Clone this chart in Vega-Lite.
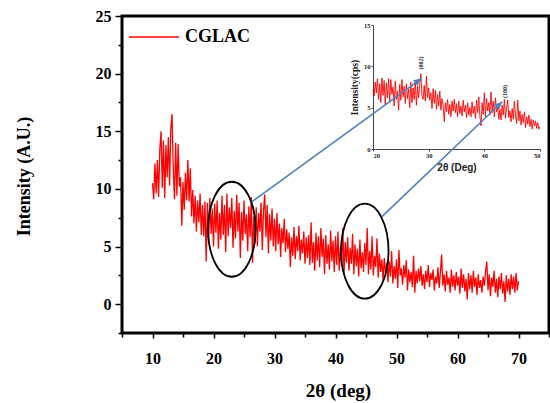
{
"$schema":"https://vega.github.io/schema/vega-lite/v6.json",
"width":427,"height":317,
"autosize":{"type":"none"},
"padding":{"left":122,"top":16,"right":1,"bottom":70},
"background":"white",
"config":{"view":{"stroke":"black","strokeWidth":3},"axis":{"grid":false},"font":"Liberation Serif"},
"datasets":{
"main":[{"t":10.0,"i":10.5},{"t":10.2,"i":9.1},{"t":10.4,"i":12.2},{"t":10.6,"i":9.6},{"t":10.8,"i":12.5},{"t":11.0,"i":9.3},{"t":11.2,"i":13.4},{"t":11.4,"i":15.0},{"t":11.6,"i":10.1},{"t":11.8,"i":14.2},{"t":12.0,"i":9.2},{"t":12.2,"i":13.8},{"t":12.4,"i":11.0},{"t":12.6,"i":14.5},{"t":12.8,"i":10.3},{"t":13.0,"i":15.2},{"t":13.2,"i":16.5},{"t":13.4,"i":11.8},{"t":13.6,"i":9.1},{"t":13.8,"i":14.0},{"t":14.0,"i":9.4},{"t":14.2,"i":13.9},{"t":14.4,"i":10.2},{"t":14.6,"i":11.0},{"t":14.8,"i":6.8},{"t":15.0,"i":10.6},{"t":15.2,"i":8.2},{"t":15.4,"i":11.4},{"t":15.6,"i":9.0},{"t":15.8,"i":12.5},{"t":16.0,"i":8.9},{"t":16.2,"i":11.8},{"t":16.4,"i":7.6},{"t":16.6,"i":9.9},{"t":16.8,"i":7.0},{"t":17.0,"i":9.4},{"t":17.2,"i":6.3},{"t":17.4,"i":9.0},{"t":17.6,"i":7.1},{"t":17.8,"i":9.6},{"t":18.0,"i":6.0},{"t":18.2,"i":8.6},{"t":18.4,"i":5.9},{"t":18.6,"i":8.9},{"t":18.8,"i":3.7},{"t":19.0,"i":8.8},{"t":19.2,"i":5.4},{"t":19.4,"i":9.2},{"t":19.6,"i":6.1},{"t":19.8,"i":8.3},{"t":20.0,"i":5.0},{"t":20.2,"i":8.7},{"t":20.4,"i":6.2},{"t":20.6,"i":9.0},{"t":20.8,"i":4.8},{"t":21.0,"i":7.9},{"t":21.2,"i":5.6},{"t":21.4,"i":9.4},{"t":21.6,"i":6.0},{"t":21.8,"i":8.6},{"t":22.0,"i":4.5},{"t":22.2,"i":9.6},{"t":22.4,"i":5.9},{"t":22.6,"i":8.4},{"t":22.8,"i":6.6},{"t":23.0,"i":9.2},{"t":23.2,"i":4.9},{"t":23.4,"i":8.1},{"t":23.6,"i":5.7},{"t":23.8,"i":9.5},{"t":24.0,"i":6.3},{"t":24.2,"i":8.8},{"t":24.4,"i":4.0},{"t":24.6,"i":8.0},{"t":24.8,"i":5.5},{"t":25.0,"i":9.0},{"t":25.2,"i":6.1},{"t":25.4,"i":7.8},{"t":25.6,"i":4.6},{"t":25.8,"i":8.5},{"t":26.0,"i":5.8},{"t":26.2,"i":9.3},{"t":26.4,"i":3.6},{"t":26.6,"i":7.6},{"t":26.8,"i":5.2},{"t":27.0,"i":8.4},{"t":27.2,"i":5.0},{"t":27.4,"i":7.9},{"t":27.6,"i":6.3},{"t":27.8,"i":8.8},{"t":28.0,"i":4.7},{"t":28.2,"i":8.1},{"t":28.4,"i":9.5},{"t":28.6,"i":5.8},{"t":28.8,"i":8.6},{"t":29.0,"i":4.4},{"t":29.2,"i":7.8},{"t":29.4,"i":5.5},{"t":29.6,"i":8.3},{"t":29.8,"i":5.0},{"t":30.0,"i":7.4},{"t":30.2,"i":4.6},{"t":30.4,"i":7.9},{"t":30.6,"i":5.2},{"t":30.8,"i":7.0},{"t":31.0,"i":4.1},{"t":31.2,"i":6.6},{"t":31.4,"i":5.3},{"t":31.6,"i":7.4},{"t":31.8,"i":4.5},{"t":32.0,"i":6.5},{"t":32.2,"i":4.8},{"t":32.4,"i":6.2},{"t":32.6,"i":3.2},{"t":32.8,"i":5.8},{"t":33.0,"i":4.2},{"t":33.2,"i":6.7},{"t":33.4,"i":3.9},{"t":33.6,"i":5.9},{"t":33.8,"i":4.6},{"t":34.0,"i":6.8},{"t":34.2,"i":3.8},{"t":34.4,"i":5.6},{"t":34.6,"i":4.4},{"t":34.8,"i":6.3},{"t":35.0,"i":3.5},{"t":35.2,"i":5.8},{"t":35.4,"i":4.0},{"t":35.6,"i":6.0},{"t":35.8,"i":3.4},{"t":36.0,"i":7.1},{"t":36.2,"i":3.6},{"t":36.4,"i":5.4},{"t":36.6,"i":2.9},{"t":36.8,"i":6.2},{"t":37.0,"i":3.8},{"t":37.2,"i":5.9},{"t":37.4,"i":3.2},{"t":37.6,"i":6.6},{"t":37.8,"i":4.1},{"t":38.0,"i":5.7},{"t":38.2,"i":2.6},{"t":38.4,"i":6.0},{"t":38.6,"i":3.5},{"t":38.8,"i":5.2},{"t":39.0,"i":3.0},{"t":39.2,"i":6.4},{"t":39.4,"i":3.7},{"t":39.6,"i":5.5},{"t":39.8,"i":2.8},{"t":40.0,"i":5.9},{"t":40.2,"i":3.4},{"t":40.4,"i":6.3},{"t":40.6,"i":2.9},{"t":40.8,"i":5.0},{"t":41.0,"i":3.3},{"t":41.2,"i":6.6},{"t":41.4,"i":2.7},{"t":41.6,"i":5.4},{"t":41.8,"i":3.6},{"t":42.0,"i":5.8},{"t":42.2,"i":2.9},{"t":42.4,"i":4.9},{"t":42.6,"i":3.5},{"t":42.8,"i":6.1},{"t":43.0,"i":2.6},{"t":43.2,"i":5.2},{"t":43.4,"i":3.3},{"t":43.6,"i":4.8},{"t":43.8,"i":2.4},{"t":44.0,"i":5.6},{"t":44.2,"i":3.1},{"t":44.4,"i":4.5},{"t":44.6,"i":2.8},{"t":44.8,"i":5.3},{"t":45.0,"i":3.4},{"t":45.2,"i":6.6},{"t":45.4,"i":2.6},{"t":45.6,"i":4.6},{"t":45.8,"i":3.0},{"t":46.0,"i":5.9},{"t":46.2,"i":2.5},{"t":46.4,"i":4.2},{"t":46.6,"i":3.2},{"t":46.8,"i":5.7},{"t":47.0,"i":2.3},{"t":47.2,"i":4.4},{"t":47.4,"i":2.8},{"t":47.6,"i":3.9},{"t":47.8,"i":2.1},{"t":48.0,"i":4.0},{"t":48.2,"i":2.6},{"t":48.4,"i":3.6},{"t":48.6,"i":1.9},{"t":48.8,"i":3.7},{"t":49.0,"i":2.4},{"t":49.2,"i":4.6},{"t":49.4,"i":1.8},{"t":49.6,"i":3.3},{"t":49.8,"i":2.2},{"t":50.0,"i":3.9},{"t":50.2,"i":1.4},{"t":50.4,"i":4.7},{"t":50.6,"i":2.5},{"t":50.8,"i":3.1},{"t":51.0,"i":1.7},{"t":51.2,"i":3.4},{"t":51.4,"i":2.3},{"t":51.6,"i":3.8},{"t":51.8,"i":1.2},{"t":52.0,"i":3.0},{"t":52.2,"i":1.9},{"t":52.4,"i":2.8},{"t":52.6,"i":1.5},{"t":52.8,"i":4.2},{"t":53.0,"i":1.0},{"t":53.2,"i":2.9},{"t":53.4,"i":1.8},{"t":53.6,"i":3.1},{"t":53.8,"i":2.0},{"t":54.0,"i":3.3},{"t":54.2,"i":1.6},{"t":54.4,"i":2.6},{"t":54.6,"i":1.3},{"t":54.8,"i":2.9},{"t":55.0,"i":1.9},{"t":55.2,"i":3.4},{"t":55.4,"i":1.5},{"t":55.6,"i":2.7},{"t":55.8,"i":2.1},{"t":56.0,"i":3.0},{"t":56.2,"i":1.2},{"t":56.4,"i":2.4},{"t":56.6,"i":1.8},{"t":56.8,"i":3.2},{"t":57.0,"i":1.4},{"t":57.2,"i":2.8},{"t":57.4,"i":4.3},{"t":57.6,"i":1.6},{"t":57.8,"i":2.6},{"t":58.0,"i":1.1},{"t":58.2,"i":2.9},{"t":58.4,"i":1.7},{"t":58.6,"i":2.3},{"t":58.8,"i":1.0},{"t":59.0,"i":3.0},{"t":59.2,"i":1.5},{"t":59.4,"i":2.5},{"t":59.6,"i":1.2},{"t":59.8,"i":2.8},{"t":60.0,"i":1.6},{"t":60.2,"i":2.4},{"t":60.4,"i":0.9},{"t":60.6,"i":3.1},{"t":60.8,"i":1.4},{"t":61.0,"i":2.6},{"t":61.2,"i":1.1},{"t":61.4,"i":2.2},{"t":61.6,"i":0.4},{"t":61.8,"i":2.7},{"t":62.0,"i":1.3},{"t":62.2,"i":2.5},{"t":62.4,"i":1.0},{"t":62.6,"i":2.9},{"t":62.8,"i":1.5},{"t":63.0,"i":2.3},{"t":63.2,"i":0.8},{"t":63.4,"i":2.6},{"t":63.6,"i":1.4},{"t":63.8,"i":2.1},{"t":64.0,"i":1.0},{"t":64.2,"i":2.4},{"t":64.4,"i":1.6},{"t":64.6,"i":2.8},{"t":64.8,"i":3.7},{"t":65.0,"i":1.2},{"t":65.2,"i":2.6},{"t":65.4,"i":0.7},{"t":65.6,"i":2.3},{"t":65.8,"i":1.5},{"t":66.0,"i":2.9},{"t":66.2,"i":1.0},{"t":66.4,"i":2.2},{"t":66.6,"i":0.6},{"t":66.8,"i":2.4},{"t":67.0,"i":1.3},{"t":67.2,"i":2.7},{"t":67.4,"i":0.9},{"t":67.6,"i":2.0},{"t":67.8,"i":0.2},{"t":68.0,"i":2.5},{"t":68.2,"i":1.1},{"t":68.4,"i":2.2},{"t":68.6,"i":0.8},{"t":68.8,"i":2.6},{"t":69.0,"i":1.3},{"t":69.2,"i":2.4},{"t":69.4,"i":1.0},{"t":69.6,"i":2.7},{"t":69.8,"i":1.2},{"t":70.0,"i":2.0}],
"inset":[{"t":20.0,"i":7.2},{"t":20.2,"i":6.4},{"t":20.4,"i":8.1},{"t":20.6,"i":6.8},{"t":20.8,"i":8.5},{"t":21.0,"i":6.0},{"t":21.2,"i":7.9},{"t":21.4,"i":5.6},{"t":21.6,"i":8.6},{"t":21.8,"i":6.5},{"t":22.0,"i":8.3},{"t":22.2,"i":5.4},{"t":22.4,"i":8.0},{"t":22.6,"i":6.2},{"t":22.8,"i":8.5},{"t":23.0,"i":5.8},{"t":23.2,"i":8.4},{"t":23.4,"i":6.6},{"t":23.6,"i":7.5},{"t":23.8,"i":5.2},{"t":24.0,"i":8.2},{"t":24.2,"i":6.0},{"t":24.4,"i":7.0},{"t":24.6,"i":4.7},{"t":24.8,"i":7.8},{"t":25.0,"i":5.9},{"t":25.2,"i":8.4},{"t":25.4,"i":6.3},{"t":25.6,"i":7.6},{"t":25.8,"i":5.5},{"t":26.0,"i":7.9},{"t":26.2,"i":6.1},{"t":26.4,"i":7.3},{"t":26.6,"i":5.0},{"t":26.8,"i":8.1},{"t":27.0,"i":5.6},{"t":27.2,"i":7.4},{"t":27.4,"i":6.0},{"t":27.6,"i":8.2},{"t":27.8,"i":5.3},{"t":28.0,"i":7.6},{"t":28.2,"i":6.2},{"t":28.4,"i":7.9},{"t":28.6,"i":9.1},{"t":28.8,"i":6.4},{"t":29.0,"i":6.0},{"t":29.2,"i":7.7},{"t":29.4,"i":5.8},{"t":29.6,"i":8.8},{"t":29.8,"i":6.2},{"t":30.0,"i":7.4},{"t":30.2,"i":5.9},{"t":30.4,"i":6.8},{"t":30.6,"i":4.9},{"t":30.8,"i":7.3},{"t":31.0,"i":5.5},{"t":31.2,"i":7.1},{"t":31.4,"i":4.8},{"t":31.6,"i":6.6},{"t":31.8,"i":5.2},{"t":32.0,"i":7.0},{"t":32.2,"i":4.7},{"t":32.4,"i":6.1},{"t":32.6,"i":5.3},{"t":32.8,"i":3.3},{"t":33.0,"i":5.6},{"t":33.2,"i":4.5},{"t":33.4,"i":6.0},{"t":33.6,"i":4.2},{"t":33.8,"i":5.4},{"t":34.0,"i":3.9},{"t":34.2,"i":5.8},{"t":34.4,"i":4.6},{"t":34.6,"i":6.0},{"t":34.8,"i":4.4},{"t":35.0,"i":5.5},{"t":35.2,"i":3.9},{"t":35.4,"i":5.8},{"t":35.6,"i":4.3},{"t":35.8,"i":5.2},{"t":36.0,"i":4.0},{"t":36.2,"i":5.9},{"t":36.4,"i":4.5},{"t":36.6,"i":5.3},{"t":36.8,"i":3.8},{"t":37.0,"i":5.6},{"t":37.2,"i":4.1},{"t":37.4,"i":5.0},{"t":37.6,"i":3.9},{"t":37.8,"i":5.7},{"t":38.0,"i":4.3},{"t":38.2,"i":5.2},{"t":38.4,"i":3.7},{"t":38.6,"i":5.9},{"t":38.8,"i":4.4},{"t":39.0,"i":6.3},{"t":39.2,"i":4.0},{"t":39.4,"i":2.8},{"t":39.6,"i":5.6},{"t":39.8,"i":4.2},{"t":40.0,"i":6.8},{"t":40.2,"i":3.9},{"t":40.4,"i":6.1},{"t":40.6,"i":4.6},{"t":40.8,"i":5.6},{"t":41.0,"i":4.1},{"t":41.2,"i":6.9},{"t":41.4,"i":4.4},{"t":41.6,"i":5.8},{"t":41.8,"i":3.9},{"t":42.0,"i":6.2},{"t":42.2,"i":4.5},{"t":42.4,"i":5.1},{"t":42.6,"i":3.6},{"t":42.8,"i":4.8},{"t":43.0,"i":3.5},{"t":43.2,"i":5.3},{"t":43.4,"i":4.1},{"t":43.6,"i":6.0},{"t":43.8,"i":3.7},{"t":44.0,"i":5.0},{"t":44.2,"i":5.9},{"t":44.4,"i":3.8},{"t":44.6,"i":4.6},{"t":44.8,"i":3.3},{"t":45.0,"i":4.9},{"t":45.2,"i":3.6},{"t":45.4,"i":5.8},{"t":45.6,"i":4.0},{"t":45.8,"i":3.1},{"t":46.0,"i":5.9},{"t":46.2,"i":3.4},{"t":46.4,"i":4.6},{"t":46.6,"i":2.9},{"t":46.8,"i":4.2},{"t":47.0,"i":3.2},{"t":47.2,"i":4.5},{"t":47.4,"i":2.6},{"t":47.6,"i":3.9},{"t":47.8,"i":3.0},{"t":48.0,"i":4.1},{"t":48.2,"i":2.7},{"t":48.4,"i":3.6},{"t":48.6,"i":2.4},{"t":48.8,"i":3.5},{"t":49.0,"i":2.8},{"t":49.2,"i":3.4},{"t":49.4,"i":2.5},{"t":49.6,"i":3.2},{"t":49.8,"i":2.4},{"t":50.0,"i":2.7}],
"ellipses":[{"t":23.0,"i":6.5},{"t":44.8,"i":4.6}],
"arrows":[{"id":1,"t":26.26,"i":8.88,"t2":54.13,"i2":19.59},{"id":2,"t":47.57,"i":7.58,"t2":67.34,"i2":17.56}],
"peaks":[{"t":28.7,"i":10.4,"hkl":"(002)"},{"t":43.8,"i":6.95,"hkl":"(100)"}]
},
"layer":[
{"layer":[
 {"mark":{"type":"rect","fill":null,"stroke":"#666666","strokeWidth":0.8},
  "encoding":{"x":{"datum":20,"type":"quantitative","scale":{"domain":[20,50],"range":[251,418],"zero":false,"nice":false}},"x2":{"datum":50},"y":{"datum":0,"type":"quantitative","scale":{"domain":[0,15],"range":[133,9],"zero":false,"nice":false}},"y2":{"datum":15}}},
 {"data":{"name":"inset"},"mark":{"type":"line","color":"#ff0000","strokeWidth":0.9},
  "encoding":{
   "x":{"field":"t","type":"quantitative","scale":{"domain":[20,50],"range":[251,418],"zero":false,"nice":false},
     "axis":{"orient":"bottom","offset":-184,"values":[20,30,40,50],"title":"2θ (Deg)","titleFont":"Liberation Sans","titleFontSize":10,"titleFontWeight":"bold","titlePadding":4,"labelFont":"Liberation Serif","labelFontWeight":"bold","labelFontSize":6.5,"labelPadding":1,"tickSize":2,"domainColor":"#444444","tickColor":"#444444","labelColor":"#222222","titleColor":"#222222"}},
   "y":{"field":"i","type":"quantitative","scale":{"domain":[0,15],"range":[133,9],"zero":false,"nice":false},
     "axis":{"orient":"left","offset":-251,"values":[0,5,10,15],"title":"Intensity(cps)","titleFont":"Liberation Serif","titleFontSize":9.5,"titleFontWeight":"bold","titlePadding":4,"labelFont":"Liberation Serif","labelFontWeight":"bold","labelFontSize":6.5,"labelPadding":1,"tickSize":2,"domainColor":"#444444","tickColor":"#444444","labelColor":"#222222","titleColor":"#222222"}}}},
 {"data":{"name":"peaks"},"mark":{"type":"text","angle":270,"font":"Liberation Serif","fontWeight":"bold","fontSize":6,"color":"#222222"},
  "encoding":{"x":{"field":"t","type":"quantitative","scale":{"domain":[20,50],"range":[251,418],"zero":false,"nice":false}},"y":{"field":"i","type":"quantitative","scale":{"domain":[0,15],"range":[133,9],"zero":false,"nice":false}},"text":{"field":"hkl"}}}
]},
{"layer":[
 {"data":{"name":"ellipses"},"mark":{"type":"point","opacity":0},
  "encoding":{
   "x":{"field":"t","type":"quantitative","scale":{"domain":[5,75],"zero":false,"nice":false},
     "axis":{"orient":"bottom","domain":false,"values":[5,15,25,35,45,55,65,75],"labels":false,"title":null,"tickSize":4,"tickWidth":1.5,"tickColor":"black"}},
   "y":{"field":"i","type":"quantitative","scale":{"domain":[-2.5,25],"zero":false,"nice":false},
     "axis":{"orient":"left","domain":false,"values":[-2.5,2.5,7.5,12.5,17.5,22.5],"labels":false,"title":null,"tickSize":4,"tickWidth":1.5,"tickColor":"black"}}}}
]},
{"layer":[
 {"data":{"name":"main"},"mark":{"type":"line","strokeWidth":1.3},
  "encoding":{
   "x":{"field":"t","type":"quantitative","scale":{"domain":[5,75],"zero":false,"nice":false},
     "axis":{"orient":"bottom","domain":false,"values":[10,20,30,40,50,60,70],
       "tickSize":5,"tickWidth":1.5,"tickColor":"black",
       "labelFont":"Liberation Serif","labelFontWeight":"bold","labelFontSize":16,"labelPadding":12,"labelColor":"black",
       "title":"2θ (deg)","titleFont":"Liberation Serif","titleFontSize":19,"titleFontWeight":"bold","titleColor":"black","titleX":216,"titleY":57,"titleBaseline":"middle"}},
   "y":{"field":"i","type":"quantitative","scale":{"domain":[-2.5,25],"zero":false,"nice":false},
     "axis":{"orient":"left","domain":false,"values":[0,5,10,15,20,25],
       "tickSize":7,"tickWidth":1.5,"tickColor":"black",
       "labelFont":"Liberation Serif","labelFontWeight":"bold","labelFontSize":16,"labelPadding":4,"labelColor":"black",
       "title":"Intensity (A.U.)","titleFont":"Liberation Serif","titleFontSize":18,"titleFontWeight":"bold","titleColor":"black","titleX":-98,"titleY":160,"titleBaseline":"middle","titleAlign":"center","titleAngle":270}},
   "color":{"datum":"CGLAC","type":"nominal","scale":{"range":["#ff0000"]},
     "legend":{"orient":"none","legendX":6,"legendY":-5,"title":null,"symbolType":"stroke","symbolSize":2500,"symbolStrokeWidth":1.5,"labelFont":"Liberation Serif","labelFontWeight":"bold","labelFontSize":18,"labelColor":"black","labelOffset":5}}}},
 {"data":{"name":"ellipses"},"mark":{"type":"point","shape":"M0,-1 A0.5,1 0 1,1 0,1 A0.5,1 0 1,1 0,-1 Z","size":9025,"filled":false,"stroke":"black","strokeWidth":1.8,"opacity":1},
  "encoding":{"x":{"field":"t","type":"quantitative","scale":{"domain":[5,75],"zero":false,"nice":false}},"y":{"field":"i","type":"quantitative","scale":{"domain":[-2.5,25],"zero":false,"nice":false}}}},
 {"data":{"name":"arrows"},"mark":{"type":"rule","color":"#4f81bd","strokeWidth":1.6},
  "encoding":{"x":{"field":"t","type":"quantitative","scale":{"domain":[5,75],"zero":false,"nice":false}},"y":{"field":"i","type":"quantitative","scale":{"domain":[-2.5,25],"zero":false,"nice":false}},"x2":{"field":"t2"},"y2":{"field":"i2"}}},
 {"data":{"name":"arrows"},"transform":[{"filter":"datum.id === 1"}],"mark":{"type":"point","shape":"M0,0 L-0.45,1 L0.45,1 Z","size":256,"filled":true,"color":"#4f81bd","opacity":1,"angle":54},
  "encoding":{"x":{"field":"t2","type":"quantitative","scale":{"domain":[5,75],"zero":false,"nice":false}},"y":{"field":"i2","type":"quantitative","scale":{"domain":[-2.5,25],"zero":false,"nice":false}}}},
 {"data":{"name":"arrows"},"transform":[{"filter":"datum.id === 2"}],"mark":{"type":"point","shape":"M0,0 L-0.45,1 L0.45,1 Z","size":256,"filled":true,"color":"#4f81bd","opacity":1,"angle":46},
  "encoding":{"x":{"field":"t2","type":"quantitative","scale":{"domain":[5,75],"zero":false,"nice":false}},"y":{"field":"i2","type":"quantitative","scale":{"domain":[-2.5,25],"zero":false,"nice":false}}}}
]}
],
"resolve":{"scale":{"x":"independent","y":"independent"},"axis":{"x":"independent","y":"independent"}}
}
